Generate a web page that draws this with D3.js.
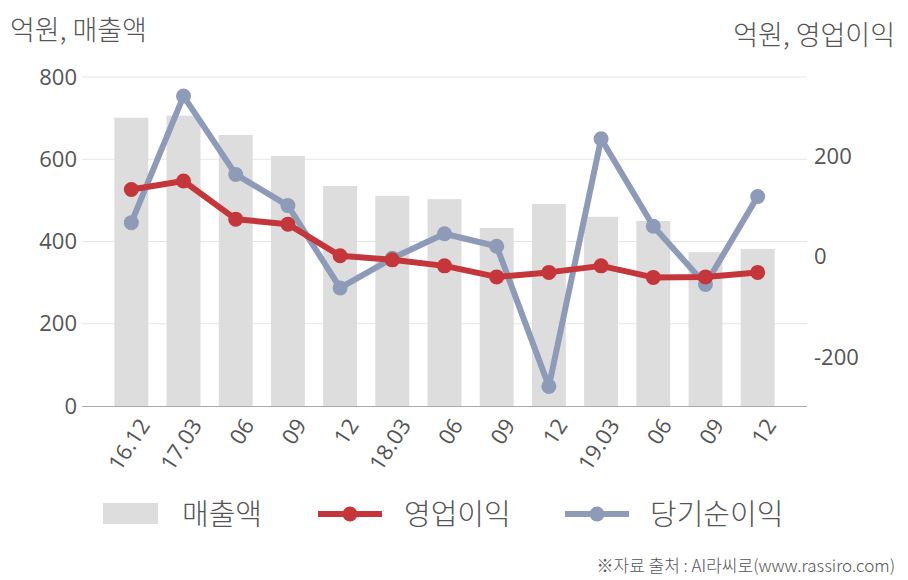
<!DOCTYPE html>
<html><head><meta charset="utf-8">
<script src="https://cdn.jsdelivr.net/npm/d3@7"></script>
<style>
body{margin:0;background:#fff;}
text{font-family:"Open Sans","Noto Sans CJK KR",sans-serif;}
.kr{font-family:"Noto Sans CJK KR",sans-serif;font-weight:300;}
</style></head>
<body><svg id="c" width="908" height="580"></svg>
<script>
const categories = ["16.12","17.03","06","09","12","18.03","06","09","12","19.03","06","09","12"];
const sales = [701, 706, 659, 608, 535, 511, 503, 433, 491, 460, 450, 374, 382];
const opProfit = [134, 151, 75, 65, 2, -6, -18, -40, -31, -18, -41, -40, -31];
const netIncome = [68, 320, 164, 102, -62, -3, 46, 21, -258, 235, 61, -55, 120];
const leftTicks = [0, 200, 400, 600, 800];
const rightTicks = [-200, 0, 200];
const seriesNames = ["매출액", "영업이익", "당기순이익"];

const svg = d3.select("#c");
const pL = 82, pR = 807, pT = 77, pB = 406;
const x = d3.scaleBand().domain(d3.range(categories.length)).range([pL, pR]).paddingInner(0.35).paddingOuter(0.62);
const yL = d3.scaleLinear().domain([0, 800]).range([pB, pT]);
const yR = d3.scaleLinear().domain([-297, 358]).range([pB, pT]);
const cx = i => x(i) + x.bandwidth() / 2;

const gray = "#dddddd", red = "#c4363a", blue = "#8e9bb8", txt = "#555";
const numFont = '"Open Sans","Noto Sans CJK KR",sans-serif';

// gridlines
svg.append("g").selectAll("line").data(leftTicks.filter(d => d > 0)).join("line")
  .attr("x1", pL).attr("x2", pR).attr("y1", d => yL(d)).attr("y2", d => yL(d))
  .attr("stroke", "#e6e6e6").attr("stroke-width", 1);

// left axis
const gL = svg.append("g").attr("transform", `translate(${pL},0)`)
  .call(d3.axisLeft(yL).tickValues(leftTicks).tickSize(0).tickPadding(5).tickFormat(d => String(d)));
gL.select(".domain").remove();
gL.selectAll("text").attr("font-size", 22).attr("fill", txt).attr("font-family", numFont);

// right axis
const gR = svg.append("g").attr("transform", `translate(${pR},0)`)
  .call(d3.axisRight(yR).tickValues(rightTicks).tickSize(0).tickPadding(7).tickFormat(d => String(d)));
gR.select(".domain").remove();
gR.selectAll("text").attr("font-size", 22).attr("fill", txt).attr("font-family", numFont);

// bars
svg.append("g").selectAll("rect").data(sales).join("rect")
  .attr("x", (d, i) => x(i)).attr("width", x.bandwidth())
  .attr("y", d => yL(d)).attr("height", d => yL(0) - yL(d)).attr("fill", gray);

// x axis
const gX = svg.append("g").attr("transform", `translate(0,${pB})`)
  .call(d3.axisBottom(x).tickSize(0).tickFormat(i => categories[i]));
gX.select(".domain").attr("stroke", "#aaa").attr("d", `M${pL},0.5H${pR}`);
gX.selectAll("text").attr("font-size", 22).attr("fill", txt)
  .attr("font-family", numFont)
  .attr("text-anchor", "end").attr("dy", "0.35em").attr("x", 0).attr("y", 0)
  .attr("transform", "translate(13,15) rotate(-57)");

// lines
function drawLine(data, color) {
  const line = d3.line().x((d, i) => cx(i)).y(d => yR(d));
  svg.append("path").datum(data).attr("d", line).attr("fill", "none")
    .attr("stroke", color).attr("stroke-width", 6).attr("stroke-linejoin", "round");
  svg.append("g").selectAll("circle").data(data).join("circle")
    .attr("cx", (d, i) => cx(i)).attr("cy", d => yR(d)).attr("r", 7.5).attr("fill", color);
}
drawLine(netIncome, blue);
drawLine(opProfit, red);

// titles
svg.append("text").attr("class", "kr").attr("x", 10).attr("y", 40).attr("font-size", 27).attr("fill", txt).text("억원, 매출액");
svg.append("text").attr("class", "kr").attr("x", 895).attr("y", 45).attr("text-anchor", "end").attr("font-size", 27).attr("fill", txt).text("억원, 영업이익");

// legend
const lg = svg.append("g");
lg.append("rect").attr("x", 103).attr("y", 503).attr("width", 55).attr("height", 21).attr("fill", gray);
lg.append("text").attr("class", "kr").attr("x", 182).attr("y", 525).attr("font-size", 29).attr("fill", txt).text(seriesNames[0]);
[[318, red, seriesNames[1], 404], [565, blue, seriesNames[2], 650]].forEach(([lx, col, name, tx]) => {
  lg.append("line").attr("x1", lx).attr("x2", lx + 64).attr("y1", 514).attr("y2", 514).attr("stroke", col).attr("stroke-width", 6);
  lg.append("circle").attr("cx", lx + 32).attr("cy", 514).attr("r", 7.5).attr("fill", col);
  lg.append("text").attr("class", "kr").attr("x", tx).attr("y", 525).attr("font-size", 29).attr("fill", txt).text(name);
});

// footnote
svg.append("text").attr("class", "kr").attr("x", 895).attr("y", 572).attr("text-anchor", "end").attr("font-size", 17).attr("fill", txt).text("※자료 출처 : AI라씨로(www.rassiro.com)");
</script></body></html>
